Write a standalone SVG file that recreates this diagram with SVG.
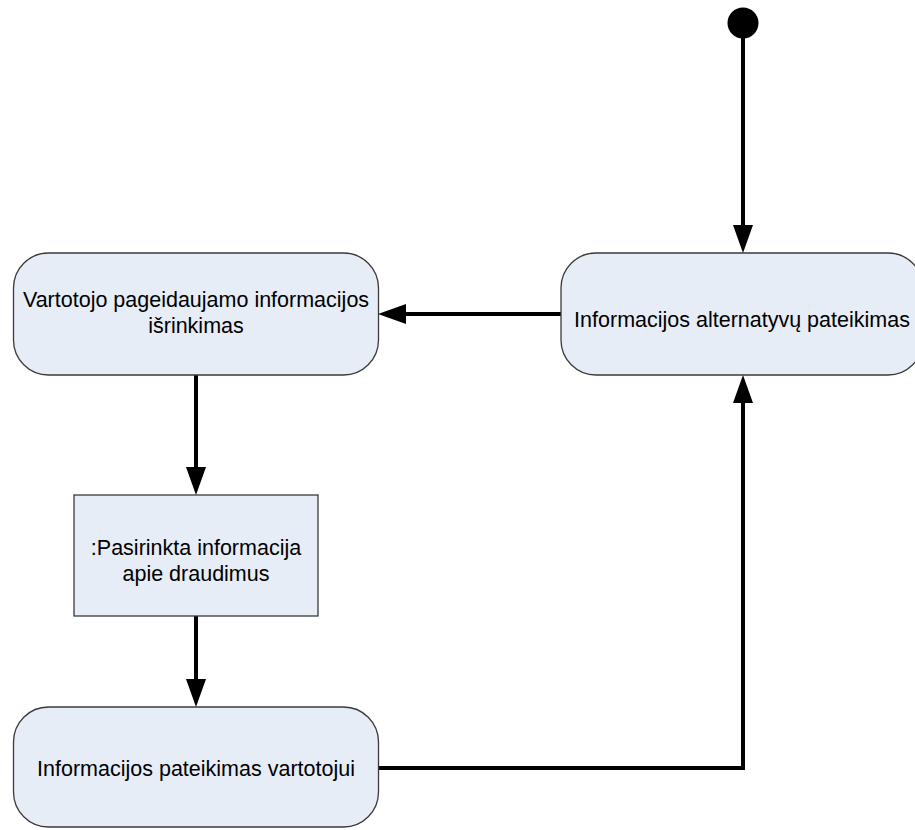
<svg xmlns="http://www.w3.org/2000/svg" width="915" height="830" viewBox="0 0 915 830">
  <defs>
    <style>
      .state { fill: #E7EDF7; stroke: #3A3A3A; stroke-width: 1.3; }
      .label { font-family: "Liberation Sans", Arial, sans-serif; font-size: 21.5px; fill: #000; text-anchor: middle; }
      .flow { fill: none; stroke: #000; stroke-width: 4; stroke-linejoin: miter; }
    </style>
    <marker id="arrow" markerUnits="userSpaceOnUse" markerWidth="28" markerHeight="20" refX="8" refY="10" orient="auto">
      <path d="M0,0 L28,10 L0,20 Z" fill="#000"/>
    </marker>
  </defs>

  <rect width="915" height="830" fill="#fff"/>

  <!-- connectors -->
  <g id="connectors">
    <path class="flow" d="M743,36 V233" marker-end="url(#arrow)"/>
    <path class="flow" d="M561,314 H398" marker-end="url(#arrow)"/>
    <path class="flow" d="M196,375 V475" marker-end="url(#arrow)"/>
    <path class="flow" d="M196,616 V687" marker-end="url(#arrow)"/>
    <path class="flow" d="M378,768 H743 V395" marker-end="url(#arrow)"/>
  </g>

  <!-- initial state -->
  <g id="start">
    <circle cx="743" cy="23" r="15.5" fill="#000"/>
  </g>

  <g id="alternatives">
    <rect class="state" x="561" y="253" width="362" height="122" rx="35" ry="35"/>
    <text class="label" x="742" y="327">Informacijos alternatyvų pateikimas</text>
  </g>

  <g id="selection">
    <rect class="state" x="13.5" y="253" width="365" height="122" rx="35" ry="35"/>
    <text class="label" x="196" y="307">Vartotojo pageidaujamo informacijos</text>
    <text class="label" x="196" y="333">išrinkimas</text>
  </g>

  <g id="selected-info">
    <rect class="state" x="74" y="495" width="244" height="121"/>
    <text class="label" x="196" y="555">:Pasirinkta informacija</text>
    <text class="label" x="196" y="581">apie draudimus</text>
  </g>

  <g id="presentation">
    <rect class="state" x="13.5" y="707" width="365" height="120" rx="35" ry="35"/>
    <text class="label" x="196" y="776">Informacijos pateikimas vartotojui</text>
  </g>
</svg>
